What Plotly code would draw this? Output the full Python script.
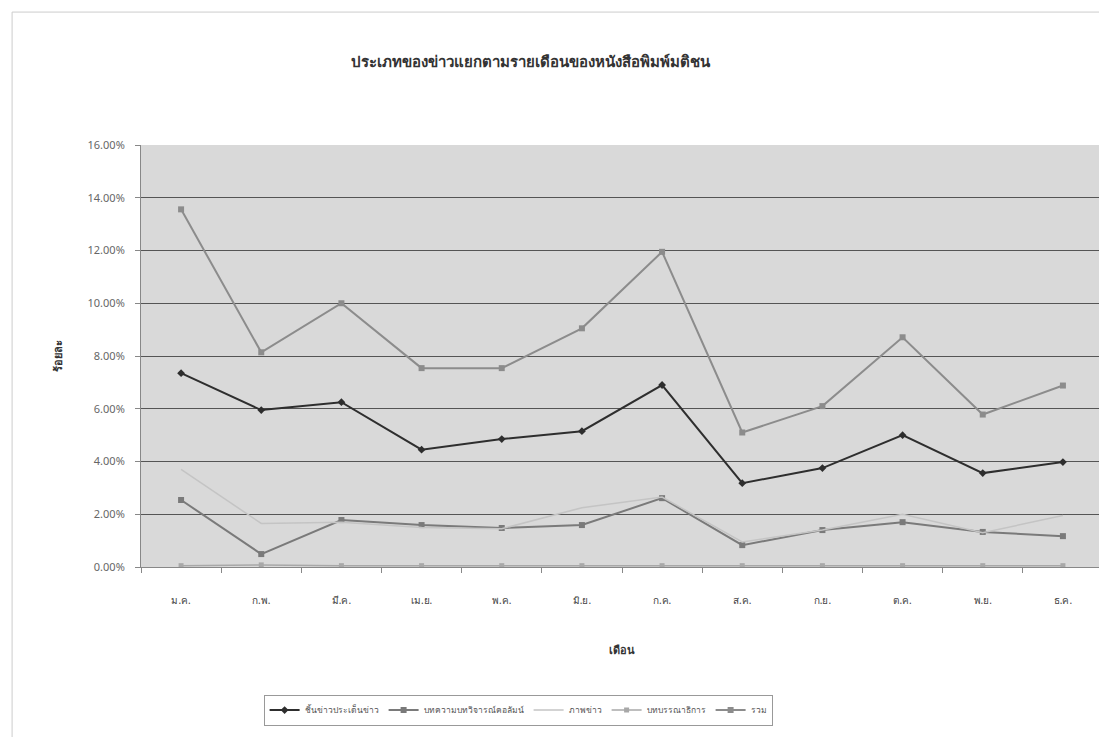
import plotly.graph_objects as go

months = ["ม.ค.", "ก.พ.", "มี.ค.", "เม.ย.", "พ.ค.", "มิ.ย.", "ก.ค.", "ส.ค.", "ก.ย.", "ต.ค.", "พ.ย.", "ธ.ค."]

# values in percent
news_items = [7.35, 5.95, 6.25, 4.45, 4.85, 5.15, 6.90, 3.18, 3.75, 5.00, 3.56, 3.98]
articles = [2.54, 0.49, 1.78, 1.59, 1.48, 1.59, 2.61, 0.83, 1.40, 1.70, 1.33, 1.17]
photos = [3.70, 1.65, 1.70, 1.50, 1.45, 2.25, 2.65, 0.95, 1.40, 2.00, 1.30, 1.95]
editorials = [0.05, 0.08, 0.05, 0.05, 0.05, 0.05, 0.05, 0.05, 0.05, 0.05, 0.05, 0.05]
total = [13.56, 8.14, 10.00, 7.54, 7.54, 9.05, 11.95, 5.10, 6.10, 8.71, 5.78, 6.88]

series_names = ["ชิ้นข่าวประเด็นข่าว", "บทความบทวิจารณ์คอลัมน์", "ภาพข่าว", "บทบรรณาธิการ", "รวม"]

title_text = "ประเภทของข่าวแยกตามรายเดือนของหนังสือพิมพ์มติชน"
x_title = "เดือน"
y_title = "ร้อยละ"

FONT = "Noto Sans, DejaVu Sans, sans-serif"

fig = go.Figure()

styles = [
    (news_items, dict(color="#2e2e2e", width=2), dict(symbol="diamond", size=6, color="#2e2e2e")),
    (articles, dict(color="#7a7a7a", width=2), dict(symbol="square", size=6, color="#7a7a7a")),
    (photos, dict(color="#c4c4c4", width=1.5), None),
    (editorials, dict(color="#a8a8a8", width=1.5), dict(symbol="square", size=5, color="#a8a8a8")),
    (total, dict(color="#8c8c8c", width=2), dict(symbol="square", size=6, color="#8c8c8c")),
]

for (vals, line, marker), name in zip(styles, series_names):
    fig.add_trace(go.Scatter(
        x=months,
        y=[v / 100 for v in vals],
        name=name,
        mode="lines+markers" if marker else "lines",
        line=line,
        marker=marker,
    ))

fig.update_layout(
    width=1099,
    height=729,
    paper_bgcolor="white",
    plot_bgcolor="#d9d9d9",
    font=dict(family=FONT, color="#444", size=11),
    margin=dict(l=133, r=4, t=137, b=170),
    title=dict(
        text="<b>" + title_text + "</b>",
        x=0.475, xanchor="center", y=0.926, yanchor="middle",
        font=dict(size=15, color="#333", family=FONT),
    ),
    showlegend=True,
    legend=dict(
        orientation="h",
        x=0.392, xanchor="center",
        y=-0.339, yanchor="middle",
        bordercolor="#999", borderwidth=1,
        bgcolor="white",
        font=dict(size=8.5, color="#555"),
        itemwidth=30,
        tracegroupgap=0,
    ),
    xaxis=dict(
        type="category",
        range=[-0.5, 11.5],
        showgrid=False,
        ticks="outside",
        tickson="boundaries",
        ticklen=5,
        tickcolor="#888",
        showline=True,
        linecolor="#888",
        ticklabelstandoff=24,
        tickfont=dict(size=10, color="#444"),
        title=dict(text="<b>" + x_title + "</b>", font=dict(size=11, color="#333"), standoff=40),
        zeroline=False,
    ),
    yaxis=dict(
        range=[0, 0.16],
        dtick=0.02,
        tickformat=".2%",
        showgrid=True,
        gridcolor="#555",
        gridwidth=1,
        ticks="outside",
        ticklen=5,
        tickcolor="#888",
        showline=True,
        linecolor="#888",
        ticklabelstandoff=8,
        tickfont=dict(size=11, color="#666"),
        title=dict(text="<b>" + y_title + "</b>", font=dict(size=11, color="#333"), standoff=22),
        zeroline=False,
    ),
)

fig.add_shape(type="rect", xref="paper", yref="paper", x0=-0.134, x1=1.02, y0=-0.43, y1=1.315,
              line=dict(color="#cccccc", width=1), layer="below")

fig.write_html("out.html")
